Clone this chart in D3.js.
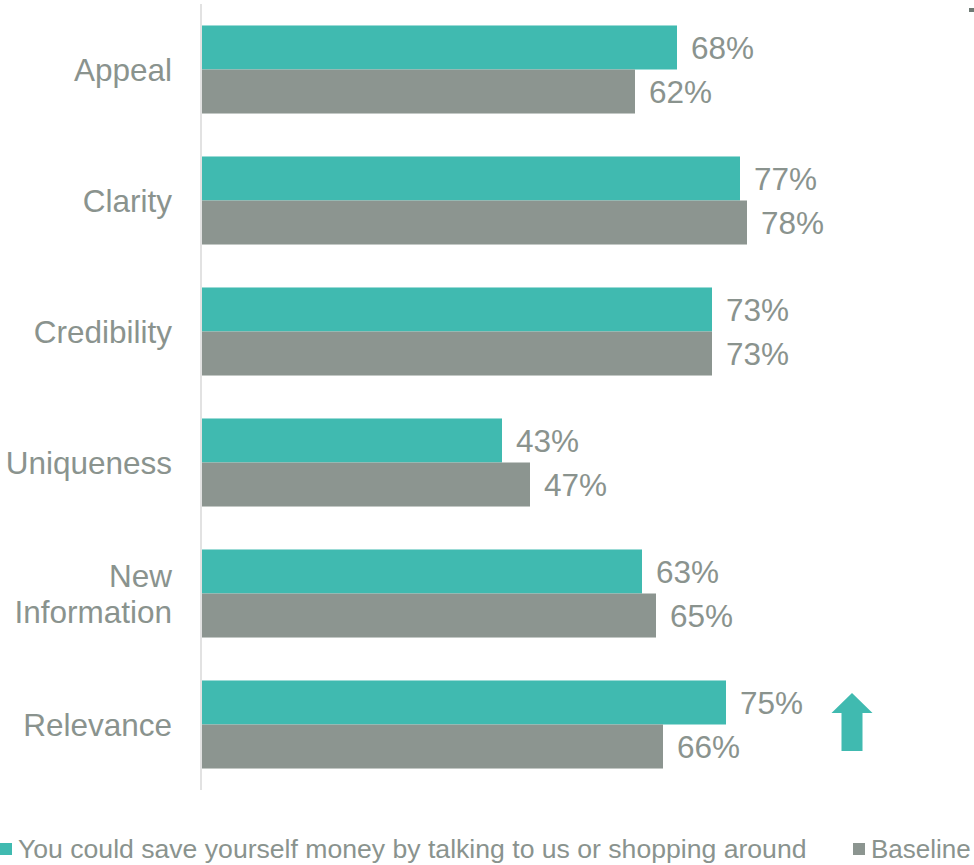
<!DOCTYPE html>
<html>
<head>
<meta charset="utf-8">
<script src="https://cdn.jsdelivr.net/npm/d3@7"></script>
<style>
  html, body { margin: 0; padding: 0; background: #fff; overflow: hidden; }
  svg { display: block; }
  text { font-family: "Liberation Sans", Arial, sans-serif; fill: #8a938e; }
</style>
</head>
<body>
<svg id="chart" width="974" height="865"></svg>
<script>
// Attributes rated for the ad message vs. the baseline
const categories = ["Appeal", "Clarity", "Credibility", "Uniqueness", "New Information", "Relevance"];
const categoryLines = [["Appeal"], ["Clarity"], ["Credibility"], ["Uniqueness"], ["New", "Information"], ["Relevance"]];
const seriesNames = ["You could save yourself money by talking to us or shopping around", "Baseline"];
const messageValues = [68, 77, 73, 43, 63, 75];
const baselineValues = [62, 78, 73, 47, 65, 66];
// Attributes flagged as significantly higher than baseline
const upFlags = [false, false, false, false, false, true];

const colors = ["#40bab0", "#8c9590"];

const svg = d3.select("#chart");

const x = d3.scaleLinear().domain([0, 100]).range([201, 901]);
const y = d3.scaleBand().domain(categories).range([4, 790])
  .paddingInner(0.328).paddingOuter(0.164);
const ySub = d3.scaleBand().domain(seriesNames).range([0, y.bandwidth()]);

const rows = categories.map((c, i) => ({
  cat: c, lines: categoryLines[i], vals: [messageValues[i], baselineValues[i]], up: upFlags[i]
}));

// vertical category axis line
svg.append("line")
  .attr("x1", 201).attr("x2", 201)
  .attr("y1", 4).attr("y2", 790)
  .attr("stroke", "#e2e2e2").attr("stroke-width", 2);

const g = svg.selectAll("g.row").data(rows).join("g")
  .attr("class", "row")
  .attr("transform", d => `translate(0,${y(d.cat)})`);

g.selectAll("rect").data(d => d.vals.map((v, k) => ({ v, k })))
  .join("rect")
  .attr("x", x(0) + 1)
  .attr("y", d => ySub(seriesNames[d.k]))
  .attr("width", d => x(d.v) - x(0) - 1)
  .attr("height", ySub.bandwidth())
  .attr("fill", d => colors[d.k]);

g.selectAll("text.val").data(d => d.vals.map((v, k) => ({ v, k })))
  .join("text")
  .attr("class", "val")
  .attr("x", d => x(d.v) + 14)
  .attr("y", d => ySub(seriesNames[d.k]) + ySub.bandwidth() / 2)
  .attr("dy", "0.35em")
  .attr("font-size", 31.5)
  .text(d => d.v + "%");

// category labels
g.append("text")
  .attr("text-anchor", "end")
  .attr("font-size", 31.5)
  .attr("x", 172)
  .attr("y", y.bandwidth() / 2)
  .each(function (d) {
    const n = d.lines.length;
    d3.select(this).selectAll("tspan").data(d.lines).join("tspan")
      .attr("x", 172)
      .attr("y", (l, i) => y.bandwidth() / 2 + (i - (n - 1) / 2) * 36)
      .attr("dy", "0.35em")
      .text(l => l);
  });

// significance arrow beside the flagged row
g.filter(d => d.up).each(function (d) {
  const cx = 852;
  const gy = y(d.cat);
  const tip = 693 - gy, headBase = 713 - gy, bottom = 751 - gy;
  const path = d3.path();
  path.moveTo(cx, tip);
  path.lineTo(cx + 20.5, headBase);
  path.lineTo(cx + 10.5, headBase);
  path.lineTo(cx + 10.5, bottom);
  path.lineTo(cx - 10.5, bottom);
  path.lineTo(cx - 10.5, headBase);
  path.lineTo(cx - 20.5, headBase);
  path.closePath();
  d3.select(this).append("path").attr("d", path.toString()).attr("fill", colors[0]);
});

// legend
const legend = svg.append("g").attr("class", "legend");
const legendX = [0, 853];
seriesNames.forEach((name, k) => {
  legend.append("rect")
    .attr("x", legendX[k]).attr("y", 843)
    .attr("width", 12).attr("height", 12)
    .attr("fill", colors[k]);
  legend.append("text")
    .attr("x", legendX[k] + 18).attr("y", 849)
    .attr("dy", "0.35em")
    .attr("font-size", k === 0 ? 26.6 : 26)
    .text(name);
});

// small marker at the top-right edge
svg.append("rect")
  .attr("x", 969).attr("y", 8).attr("width", 5).attr("height", 4)
  .attr("fill", "#6f7b75");
</script>
</body>
</html>
